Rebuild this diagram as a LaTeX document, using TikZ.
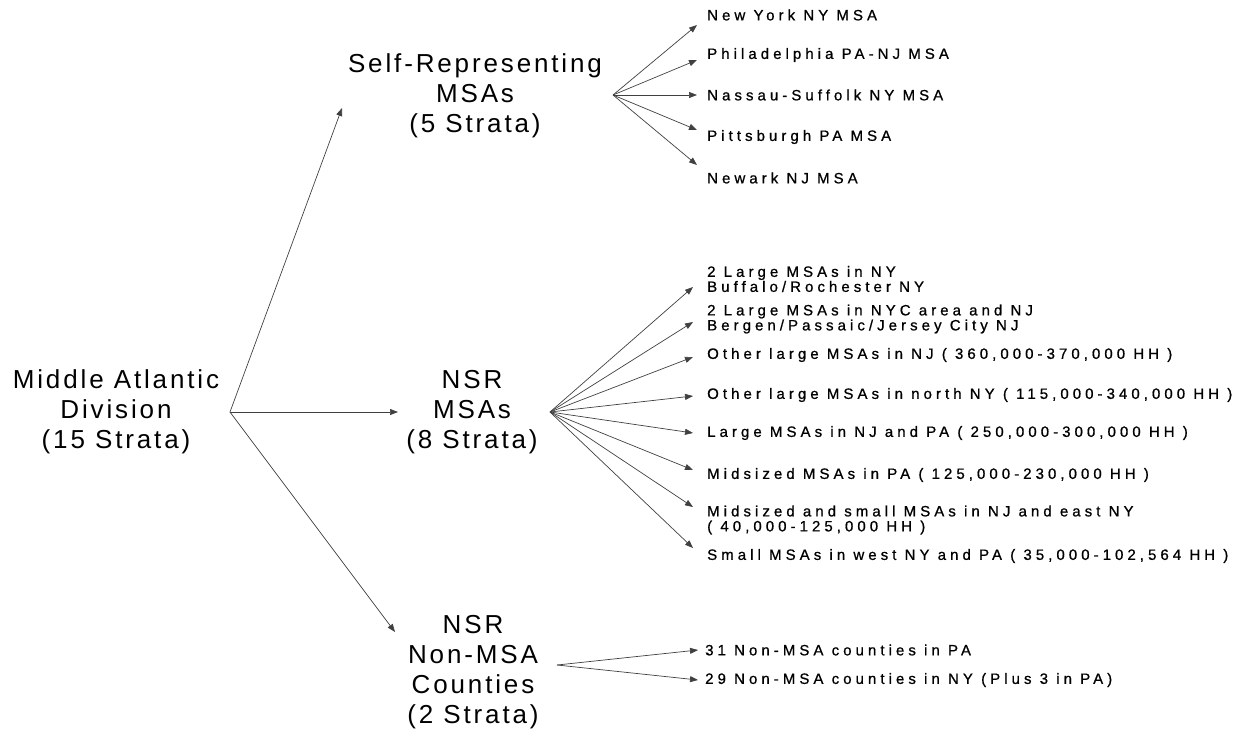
\documentclass[tikz,border=0pt]{standalone}
\usepackage{fontspec}
\setmainfont{Liberation Sans}
\usetikzlibrary{arrows.meta, calc, positioning}
\tikzset{
  strat/.style={align=center, inner sep=2pt, font=\fontsize{26}{30}\selectfont\addfontfeature{LetterSpace=11}},
  leaf/.style={anchor=west, align=left, inner sep=0pt, font=\fontsize{15}{15}\selectfont\addfontfeature{LetterSpace=27,FakeBold=0.8}},
  pto/.style={-{Triangle[length=8pt,width=6pt]}, line width=0.7pt, draw=black!75},
}

\begin{document}
\begin{tikzpicture}[x=1pt, y=-1pt]
  \useasboundingbox (0,0) rectangle (1247,731);

  % strata
  \node[strat] (mad) at (116,412) {Middle Atlantic\\Division\\(15 Strata)};
  \node[strat] (sr)  at (475,96)  {Self-Representing\\MSAs\\(5 Strata)};
  \node[strat] (nsr) at (472,412) {NSR\\MSAs\\(8 Strata)};
  \node[strat] (nm)  at (473,672) {NSR\\Non-MSA\\Counties\\(2 Strata)};

  \coordinate (madout) at (230,412);
  \coordinate (srout)  at (613,95);
  \coordinate (nsrout) at (550,412);
  \coordinate (nmout)  at (557,665);

  % self-representing MSAs
  \node[leaf] (ny)     at (707,15)  {New York NY MSA};
  \node[leaf] (phil)   at (707,55)  {Philadelphia PA-NJ MSA};
  \node[leaf] (nass)   at (707,95)  {Nassau-Suffolk NY MSA};
  \node[leaf] (pitt)   at (707,137) {Pittsburgh PA MSA};
  \node[leaf] (newark) at (707,178) {Newark NJ MSA};

  % NSR MSAs
  \node[leaf] (buf)   at (707,279) {2 Large MSAs in NY\\Buffalo/Rochester NY};
  \node[leaf] (berg)  at (707,319) {2 Large MSAs in NYC area and NJ\\Bergen/Passaic/Jersey City NJ};
  \node[leaf] (onj)   at (707,355) {Other large MSAs in NJ ( 360,000-370,000 HH )};
  \node[leaf] (onny)  at (707,395) {Other large MSAs in north NY ( 115,000-340,000 HH )};
  \node[leaf] (lnjpa) at (707,433) {Large MSAs in NJ and PA ( 250,000-300,000 HH )};
  \node[leaf] (midpa) at (707,475) {Midsized MSAs in PA ( 125,000-230,000 HH )};
  \node[leaf] (midnj) at (707,520) {Midsized and small MSAs in NJ and east NY\\( 40,000-125,000 HH )};
  \node[leaf] (smny)  at (707,556) {Small MSAs in west NY and PA ( 35,000-102,564 HH )};

  % NSR non-MSA counties
  \node[leaf] (pa31) at (705,650) {31 Non-MSA counties in PA};
  \node[leaf] (ny29) at (705,680) {29 Non-MSA counties in NY (Plus 3 in PA)};

  \draw[pto] (madout) -- ($(sr)+(-133,12)$);
  \draw[pto] (madout) -- ($(nsr)+(-74,0)$);
  \draw[pto] (madout) -- ($(nm)+(-78,-40)$);

  \foreach \n/\dy in {ny/10, phil/5, nass/0, pitt/-7, newark/-13}
    \draw[pto] (srout) -- ($(\n.west)+(-10,\dy)$);

  \foreach \n/\dy in {buf/8, berg/3, onj/2, onny/1, lnjpa/0, midpa/-5, midnj/-13, smny/-8}
    \draw[pto] (nsrout) -- ($(\n.west)+(-14,\dy)$);

  \foreach \n in {pa31, ny29}
    \draw[pto] (nmout) -- ($(\n.west)+(-7,0)$);
\end{tikzpicture}
\end{document}
